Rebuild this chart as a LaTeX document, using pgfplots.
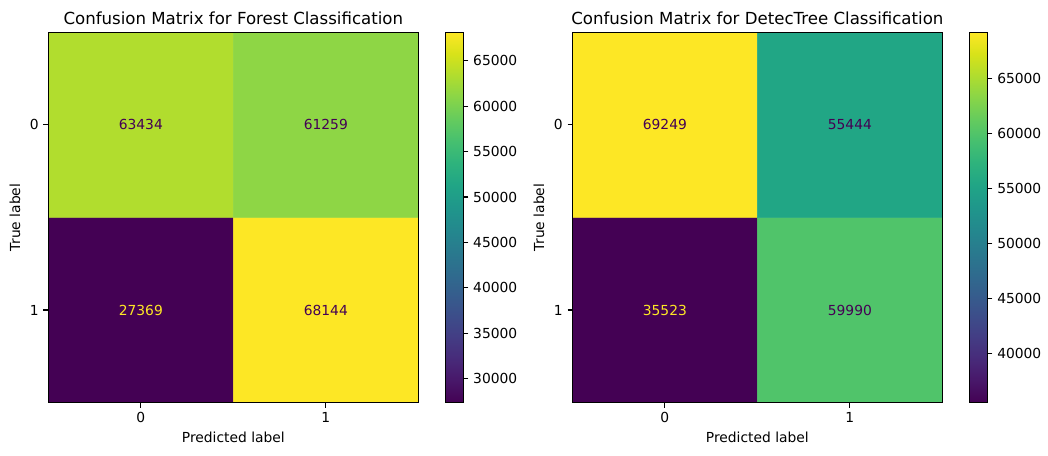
\documentclass[border=0pt]{standalone}
\usepackage{pgfplots}
\pgfplotsset{compat=1.18}
\usepackage{fontspec}
\setmainfont{DejaVu Sans}
\definecolor{vdark}{HTML}{440154}
\definecolor{vlight}{HTML}{FDE725}
\pgfplotsset{
  cm/.style={
    scale only axis, width=266.4bp, height=266.7bp, axis on top,
    xmin=-0.5, xmax=1.5, ymin=-0.5, ymax=1.5,
    xtick={0,1}, ytick={0,1}, yticklabels={1,0},
    tick align=outside, major tick length=3.5bp, tick pos=left,
    axis line style={line width=0.8bp}, major tick style={line width=0.8bp, black},
    tick label style={font=\fontsize{10}{12}\selectfont},
    label style={font=\fontsize{10}{12}\selectfont},
    title style={font=\fontsize{12}{14}\selectfont, yshift=-4bp},
    xlabel={Predicted label}, ylabel={True label},
    /pgf/number format/assume math mode=true,
    colormap/viridis, colorbar,
    colorbar style={
      width=13.2bp, at={(parent axis.north east)}, anchor=north west, xshift=10.8bp,
      tick align=outside, major tick length=3.5bp, ytick pos=right, axis on top,
      axis line style={line width=0.8bp}, major tick style={line width=0.8bp, black},
      scaled y ticks=false,
      yticklabel style={font=\fontsize{10}{12}\selectfont, /pgf/number format/.cd, fixed, 1000 sep={}},
      /pgf/number format/assume math mode=true,
    },
  },
  cellnum/.style={draw=none, mark=none, nodes near coords, point meta=explicit symbolic,
    nodes near coords style={anchor=center, font=\fontsize{10}{12}\selectfont, text=#1}},
}
\begin{document}
\begin{tikzpicture}
\useasboundingbox (0,0) rectangle (754.56bp,-327.6bp);
\begin{axis}[cm, at={(34.8bp,-289.9bp)}, anchor=south west,
  title={Confusion Matrix for Forest Classification},
  point meta min=27369, point meta max=68144,
  colorbar style={ytick={30000,35000,...,65000}}]
\addplot[matrix plot*, mesh/cols=2, mesh/rows=2, point meta=explicit] table[meta=c] {
x y c
0 0 27369
1 0 68144
0 1 63434
1 1 61259
};
\addplot[cellnum=vdark] table[meta=c] {
x y c
0 1 63434
1 1 61259
1 0 68144
};
\addplot[cellnum=vlight] table[meta=c] {
x y c
0 0 27369
};
\end{axis}
\begin{axis}[cm, at={(412.1bp,-289.9bp)}, anchor=south west,
  title={Confusion Matrix for DetecTree Classification},
  point meta min=35523, point meta max=69249,
  colorbar style={ytick={40000,45000,...,65000}}]
\addplot[matrix plot*, mesh/cols=2, mesh/rows=2, point meta=explicit] table[meta=c] {
x y c
0 0 35523
1 0 59990
0 1 69249
1 1 55444
};
\addplot[cellnum=vdark] table[meta=c] {
x y c
0 1 69249
1 1 55444
1 0 59990
};
\addplot[cellnum=vlight] table[meta=c] {
x y c
0 0 35523
};
\end{axis}
\end{tikzpicture}
\end{document}
